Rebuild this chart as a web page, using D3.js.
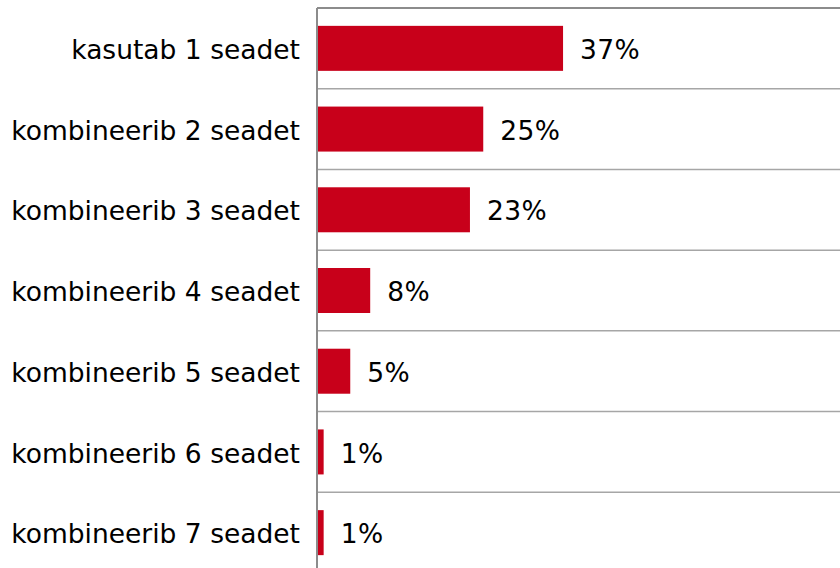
<!DOCTYPE html>
<html>
<head>
<meta charset="utf-8">
<script src="https://cdn.jsdelivr.net/npm/d3@7"></script>
<style>
  body { margin: 0; background: #fff; }
  text { font-family: "DejaVu Sans", Verdana, sans-serif; }
</style>
</head>
<body>
<script>
// data
var categories = ["kasutab 1 seadet", "kombineerib 2 seadet", "kombineerib 3 seadet",
                  "kombineerib 4 seadet", "kombineerib 5 seadet", "kombineerib 6 seadet",
                  "kombineerib 7 seadet"];
var values = [37, 25, 23, 8, 5, 1, 1];

// dimensions
var margin = {top: 8, right: 0, bottom: 0, left: 317},
    W = 840, H = 568,
    width = W - margin.left - margin.right,
    height = 565;

var svg = d3.select("body").append("svg")
    .attr("width", W)
    .attr("height", H)
  .append("g")
    .attr("transform", "translate(" + margin.left + "," + margin.top + ")");

var x = d3.scaleLinear().domain([0, 80]).range([0, 532]);
var y = d3.scaleBand().domain(categories).range([0, height]).paddingInner(0).paddingOuter(0);

// band separators
var seps = d3.range(categories.length + 1).map(function(i) { return i * y.step(); });
svg.selectAll(".sep")
    .data(seps)
    .enter().append("line")
    .attr("class", "sep")
    .attr("x1", 0).attr("x2", width)
    .attr("y1", function(d) { return d; })
    .attr("y2", function(d) { return d; })
    .style("stroke", function(d, i) { return i === 0 ? "#8c8c8c" : "#a6a6a6"; })
    .style("stroke-width", function(d, i) { return i === 0 ? 2 : 1.5; });

// bars
var barH = 45;
svg.selectAll(".bar")
    .data(values)
    .enter().append("rect")
    .attr("class", "bar")
    .attr("x", 0)
    .attr("y", function(d, i) { return y(categories[i]) + (y.bandwidth() - barH) / 2; })
    .attr("width", function(d) { return x(d); })
    .attr("height", barH)
    .style("fill", "#c8001a");

// value labels
svg.selectAll(".val")
    .data(values)
    .enter().append("text")
    .attr("class", "val")
    .attr("x", function(d) { return x(d) + 17; })
    .attr("y", function(d, i) { return y(categories[i]) + y.bandwidth() / 2; })
    .attr("dy", "0.4em")
    .attr("font-size", 26.5)
    .attr("letter-spacing", 0.4)
    .style("fill", "#000")
    .text(function(d) { return d + "%"; });

// y axis
var yAxis = svg.append("g")
    .call(d3.axisLeft(y).tickSize(0).tickPadding(17));
yAxis.select(".domain").style("stroke", "#8c8c8c").style("stroke-width", 2)
    .attr("d", "M0,0V" + (H - margin.top));
yAxis.selectAll("text")
    .attr("font-size", 26.5)
    .attr("dy", "0.4em")
    .style("font-family", "'DejaVu Sans', Verdana, sans-serif")
    .style("fill", "#000");
</script>
</body>
</html>
